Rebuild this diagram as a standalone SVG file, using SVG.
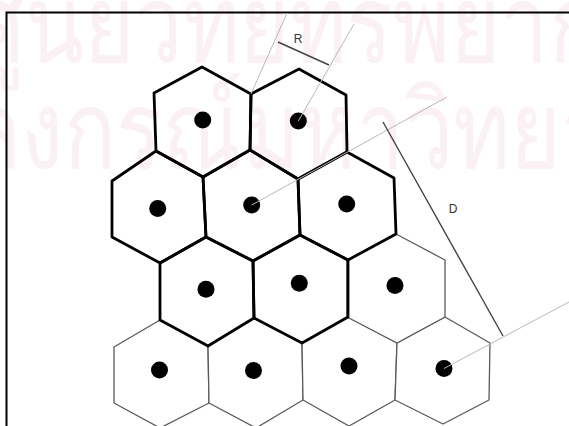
<svg xmlns="http://www.w3.org/2000/svg" width="569" height="426" viewBox="0 0 569 426">
<style>
.wm{font-family:"Noto Sans","DejaVu Sans",sans-serif;font-size:108px;fill:#fbf0f4}
.thin{fill:#fff;stroke:#5a5a5a;stroke-width:1.3;stroke-linejoin:round}
.thick{fill:none;stroke:#000;stroke-width:2.8;stroke-linejoin:round}
.dot{fill:#000}
.guide{stroke:#b8b8b8;stroke-width:1;fill:none}
.dim{stroke:#444;stroke-width:1.4;fill:none}
.lbl{font-family:"Liberation Sans",Arial,sans-serif;font-size:12px;fill:#333}
</style>
<rect width="569" height="426" fill="#fff"/>
<g id="watermark">
<text class="wm" transform="translate(-30,62) scale(0.8,1)">ศูนย์วิทยทรัพยากร</text>
<text class="wm" transform="translate(-190,168) scale(0.8,1)">จุฬาลงกรณ์มหาวิทยาลัย</text>
</g>
<g id="frame" stroke="#000" stroke-width="2" fill="none">
<path d="M6.5,426 V12.5 H569"/>
</g>
<g id="outer-cells">
<g id="cell-I"><polygon class="thin" points="160,320 208,346 209,403 160,428 114,403 114,347"/><circle class="dot" cx="159.5" cy="370" r="8.5"/></g>
<g id="cell-J"><polygon class="thin" points="254,318 302,343 303,400 256,428 209,403 208,346"/><circle class="dot" cx="253.5" cy="370.5" r="8.5"/></g>
<g id="cell-K"><polygon class="thin" points="348,317 397,343 395,400 349,426 303,400 302,343"/><circle class="dot" cx="349" cy="366" r="8.5"/></g>
<g id="cell-L"><polygon class="thin" points="445,317 490,343 489,400 443,424 395,400 397,343"/><circle class="dot" cx="444" cy="368.5" r="8.5"/></g>
<g id="cell-H"><polygon class="thin" points="396,234 445,260 445,317 397,343 347,317 347,260"/><circle class="dot" cx="395" cy="285.5" r="8.5"/></g>
</g>
<g id="cluster">
<g id="cell-A"><polygon class="thick" points="202,67 251,94 250,150 203,177 156,151 154,93"/><circle class="dot" cx="202.7" cy="120" r="8.5"/></g>
<g id="cell-B"><polygon class="thick" points="299,69 346,95 347,152 298,179 250,150 251,94"/><circle class="dot" cx="298.3" cy="121" r="8.5"/></g>
<g id="cell-C"><polygon class="thick" points="156,151 203,177 206,237 160,263 112,237 112,181"/><circle class="dot" cx="157.7" cy="208.5" r="8.5"/></g>
<g id="cell-D"><polygon class="thick" points="250,150 298,179 300,235 253,261 206,237 203,177"/><circle class="dot" cx="251.7" cy="205" r="8.5"/></g>
<g id="cell-E"><polygon class="thick" points="347,152 394,178 396,234 348,260 300,235 298,179"/><circle class="dot" cx="346.7" cy="204" r="8.5"/></g>
<g id="cell-F"><polygon class="thick" points="206,237 253,261 254,318 208,346 160,320 160,263"/><circle class="dot" cx="206" cy="289.3" r="8.5"/></g>
<g id="cell-G"><polygon class="thick" points="300,235 348,260 348,317 302,343 254,318 253,261"/><circle class="dot" cx="299.3" cy="283.3" r="8.5"/></g>
</g>
<g id="connectors">
<line class="guide" x1="251" y1="94" x2="287" y2="13"/>
<line class="guide" x1="298.3" y1="121" x2="354" y2="24"/>
<line class="dim" x1="278" y1="42" x2="329" y2="65"/>
<line class="guide" x1="251.7" y1="205" x2="447" y2="97"/>
<line class="guide" x1="444" y1="368.5" x2="569" y2="302"/>
<line class="dim" x1="383" y1="122" x2="503" y2="336"/>
</g>
<g id="labels">
<text class="lbl" x="298" y="42.5" text-anchor="middle">R</text>
<text class="lbl" x="453" y="213" text-anchor="middle">D</text>
</g>
</svg>
